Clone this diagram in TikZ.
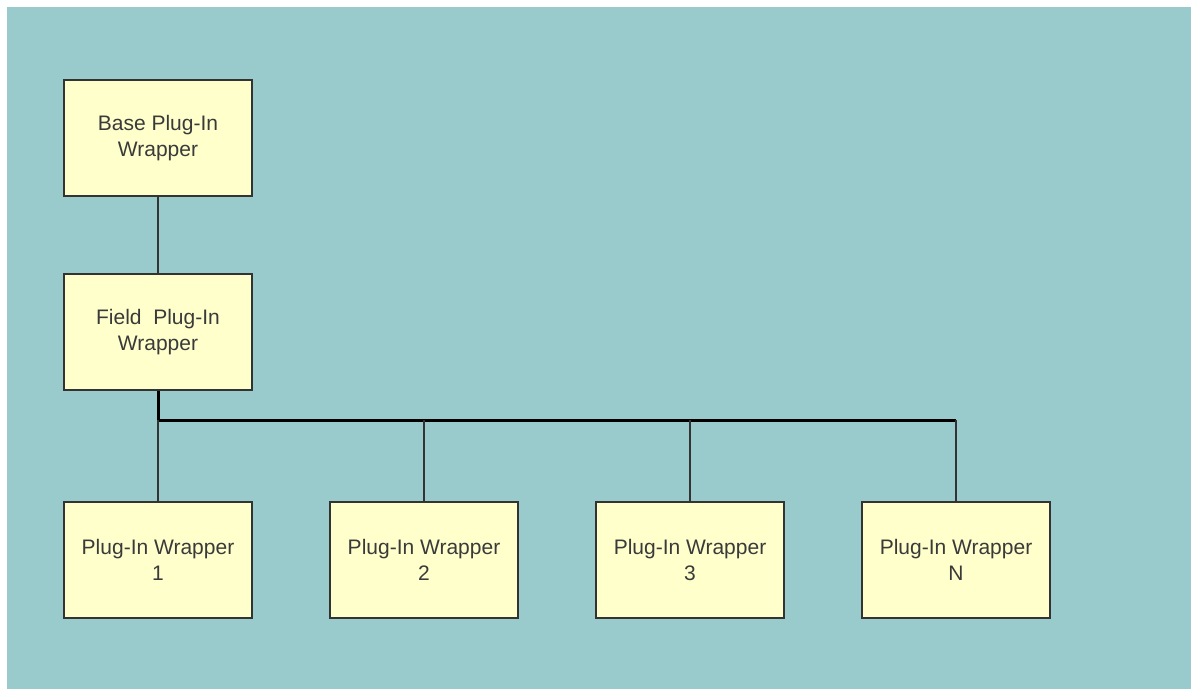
\documentclass[tikz,border=0pt]{standalone}
\usepackage{fontspec}
\setmainfont{Liberation Sans}
\usetikzlibrary{positioning,calc}

\definecolor{canvas}{HTML}{99CBCC}
\definecolor{boxfill}{HTML}{FFFFCC}
\definecolor{boxline}{HTML}{333333}
\definecolor{textgray}{HTML}{3A3A3A}

\begin{document}
\begin{tikzpicture}[
  wrapper/.style={draw=boxline,fill=boxfill,line width=2pt,minimum width=188pt,minimum height=116pt,
    inner sep=0pt,align=center,text=textgray,font=\fontsize{21}{26}\selectfont},
  link/.style={draw=boxline,line width=2pt},
  bus/.style={draw=black,line width=3pt},
  node distance=76pt,
  ]
  \useasboundingbox (0pt,0pt) rectangle (1191pt,-689pt);
  \fill[canvas] (7pt,-7pt) rectangle (1191pt,-689pt);

  \node[wrapper] (base) at (158pt,-138pt) {Base Plug-In\\Wrapper};
  \node[wrapper, below = of base] (field) {Field~~Plug-In\\Wrapper};
  \node[wrapper, below = 110pt of field] (w1) {Plug-In Wrapper\\1};
  \node[wrapper, right = of w1] (w2) {Plug-In Wrapper\\2};
  \node[wrapper, right = of w2] (w3) {Plug-In Wrapper\\3};
  \node[wrapper, right = of w3] (wn) {Plug-In Wrapper\\N};

  % bus between the field wrapper and the plug-in row
  \coordinate (busL) at ($(field.south)+(0,-29pt)$);
  \coordinate (busR) at (wn.north |- busL);

  \draw[link] (base) -- (field);
  \draw[bus] (field.south) -- (busL) -- (busR);
  \foreach \w in {w1,w2,w3,wn}
    \draw[link] (\w.north) -- (\w.north |- busL);
\end{tikzpicture}
\end{document}
